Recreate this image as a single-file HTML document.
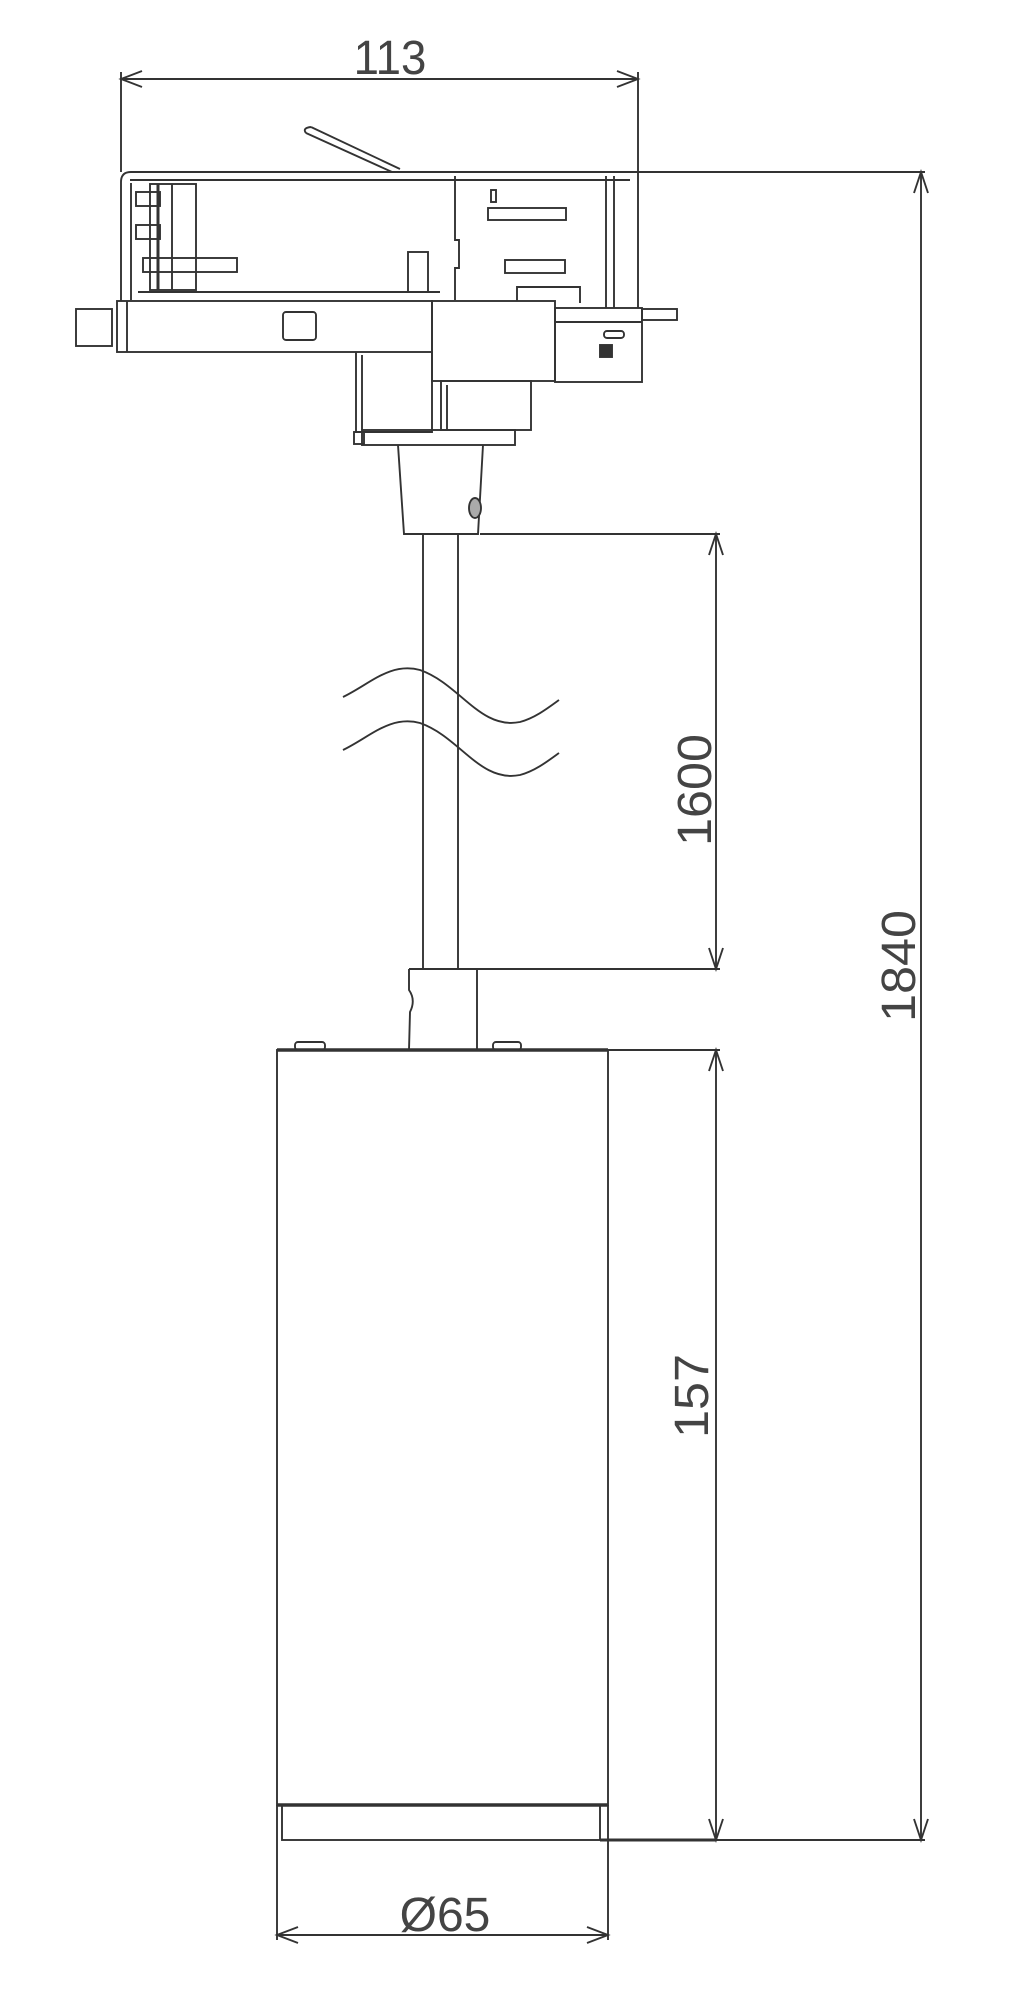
<!DOCTYPE html>
<html><head><meta charset="utf-8"><style>
html,body{margin:0;padding:0;background:#fff;}
svg{display:block}
text{font-family:"Liberation Sans",sans-serif;fill:#444;}
</style></head><body>
<svg width="1017" height="2000" viewBox="0 0 1017 2000" xmlns="http://www.w3.org/2000/svg">
<g fill="none" stroke="#333" stroke-width="1.9">
<!-- 113 dimension -->
<line x1="121" y1="79" x2="638" y2="79"/>
<line x1="121" y1="72" x2="121" y2="172"/>
<line x1="638" y1="72" x2="638" y2="172"/>
<path d="M142 71 L121 79 L142 87 M617 71 L638 79 L617 87"/>
<!-- lever -->
<path d="M311 127 L400 169 M306 133 L392 172 M311 127 Q302 128 306 133"/>
<!-- housing upper -->
<path d="M121 301 L121 182 Q121 172 131 172 L638 172 L638 308"/>
<line x1="130" y1="180" x2="630" y2="180"/>
<line x1="131" y1="183" x2="131" y2="300"/>
<line x1="138" y1="292" x2="440" y2="292"/>
<!-- left inner details -->
<rect x="150" y="184" width="46" height="106"/>
<line x1="158" y1="184" x2="158" y2="290" stroke-width="3"/>
<rect x="136" y="192" width="24" height="14"/>
<rect x="136" y="225" width="24" height="14"/>
<rect x="143" y="258" width="94" height="14"/>
<line x1="172" y1="184" x2="172" y2="290"/>
<rect x="408" y="252" width="20" height="40"/>
<!-- right module -->
<path d="M455 176 L455 240 L459 240 L459 268 L455 268 L455 300"/>
<rect x="491" y="190" width="5" height="12"/>
<rect x="488" y="208" width="78" height="12"/>
<rect x="505" y="260" width="60" height="13"/>
<path d="M517 301 L517 287 L580 287 L580 303"/>
<line x1="606" y1="176" x2="606" y2="308"/>
<line x1="614" y1="176" x2="614" y2="308"/>
<!-- lower bar -->
<rect x="117" y="301" width="315" height="51"/>
<line x1="127" y1="301" x2="127" y2="352"/>
<rect x="76" y="309" width="36" height="37"/>
<rect x="283" y="312" width="33" height="28" rx="3"/>
<!-- step -->
<path d="M356 352 L356 432 L432 432 L432 352"/>
<line x1="362" y1="355" x2="362" y2="430"/>
<!-- right block -->
<rect x="432" y="301" width="123" height="80"/>
<rect x="555" y="308" width="87" height="74"/>
<rect x="642" y="309" width="35" height="11"/>
<line x1="555" y1="322" x2="642" y2="322"/>
<rect x="604" y="331" width="20" height="7" rx="3"/>
<rect x="600" y="345" width="12" height="12" fill="#333"/>
<!-- lower block -->
<rect x="441" y="381" width="90" height="49"/>
<line x1="447" y1="385" x2="447" y2="430"/>
<!-- flange -->
<rect x="362" y="430" width="153" height="15"/>
<rect x="354" y="432" width="10" height="12"/>
<!-- neck -->
<path d="M398 445 L404 534 L478 534 L483 445"/>
<ellipse cx="475" cy="508" rx="6" ry="10" fill="#aaa"/>
<!-- rod -->
<line x1="423" y1="534" x2="423" y2="969"/>
<line x1="458" y1="534" x2="458" y2="969"/>
<!-- waves -->
<path d="M343 697 C370 684 390 662 420 670 C460 684 480 730 520 722 C535 718 548 708 559 700"/>
<path d="M343 750 C370 737 390 715 420 723 C460 737 480 783 520 775 C535 771 548 761 559 753"/>
<!-- 1600 dim -->
<line x1="480" y1="534" x2="720" y2="534"/>
<line x1="477" y1="969" x2="720" y2="969"/>
<line x1="716" y1="534" x2="716" y2="969"/>
<path d="M709 555 L716 534 L723 555 M709 948 L716 969 L723 948"/>
<!-- coupling -->
<path d="M409 969 L477 969 L477 1050 M409 969 L409 990 Q416 1000 410 1012 L409 1050"/>
<!-- body -->
<rect x="277" y="1050" width="331" height="755"/>
<line x1="277" y1="1050" x2="608" y2="1050" stroke-width="3.5"/>
<line x1="277" y1="1805" x2="608" y2="1805" stroke-width="3.5"/>
<rect x="295" y="1042" width="30" height="8" rx="3"/>
<rect x="493" y="1042" width="28" height="8" rx="3"/>
<rect x="282" y="1805" width="318" height="35"/>
<!-- 157 dim -->
<line x1="608" y1="1050" x2="720" y2="1050"/>
<line x1="600" y1="1840" x2="925" y2="1840"/>
<line x1="600" y1="1840" x2="716" y2="1840" stroke-width="3"/>
<line x1="716" y1="1050" x2="716" y2="1840"/>
<path d="M709 1071 L716 1050 L723 1071 M709 1819 L716 1840 L723 1819"/>
<!-- 1840 dim -->
<line x1="638" y1="172" x2="925" y2="172"/>
<line x1="921" y1="172" x2="921" y2="1840"/>
<path d="M914 193 L921 172 L928 193 M914 1819 L921 1840 L928 1819"/>
<!-- 65 dim -->
<line x1="277" y1="1805" x2="277" y2="1940"/>
<line x1="608" y1="1805" x2="608" y2="1940"/>
<line x1="277" y1="1935" x2="608" y2="1935"/>
<path d="M298 1927 L277 1935 L298 1943 M587 1927 L608 1935 L587 1943"/>
</g>
<g font-size="48">
<text transform="translate(390 74) scale(0.95 1)" text-anchor="middle">113</text>
<text x="445" y="1931" text-anchor="middle">Ø65</text>
<text transform="translate(711 790) rotate(-90) scale(1.05 1)" text-anchor="middle">1600</text>
<text transform="translate(708 1396) rotate(-90) scale(1.05 1)" text-anchor="middle">157</text>
<text transform="translate(915 966) rotate(-90) scale(1.05 1)" text-anchor="middle">1840</text>
</g>
</svg>
</body></html>
